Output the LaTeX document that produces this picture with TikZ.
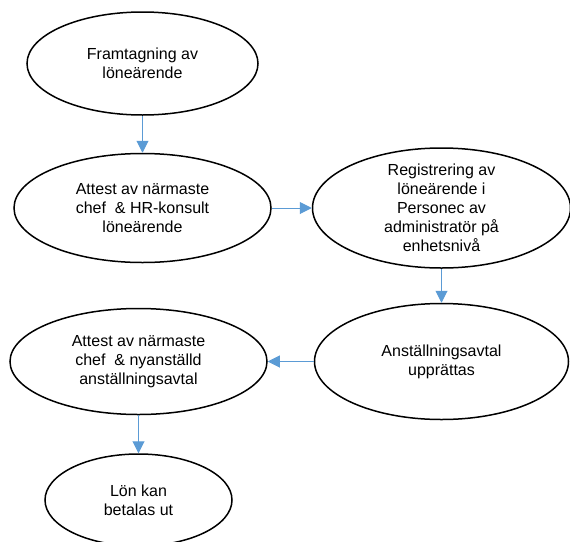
\documentclass[tikz,border=0pt]{standalone}
\usepackage{fontspec}
\setmainfont{Liberation Sans}
\usepackage{tikz}
\usetikzlibrary{arrows.meta, positioning, shapes.geometric}

\begin{document}
\begin{tikzpicture}[
  oval/.style={draw, ellipse, line width=1.5pt, inner sep=0pt, align=center,
               font=\fontsize{16}{19}\selectfont},
  arr/.style={-{Triangle[length=12pt, width=12pt]}, line width=1pt, draw={rgb,255:red,91;green,155;blue,213}, fill={rgb,255:red,91;green,155;blue,213}}
]
\useasboundingbox (0pt,0pt) rectangle (570pt,-541pt);

\node[oval, minimum width=231pt, minimum height=103pt] (fram) at (142.5pt,-63.5pt)
  {Framtagning av\\löneärende};
\node[oval, minimum width=257pt, minimum height=109pt, below=37pt of fram] (attlon)
  {Attest av närmaste\\chef \ \& HR-konsult\\löneärende};
\node[oval, minimum width=258pt, minimum height=120pt, inner ysep=-5pt, right=40pt of attlon] (reg)
  {Registrering av\\löneärende i\\Personec av\\administratör på\\enhetsnivå};
\node[oval, minimum width=254pt, minimum height=116pt, below=34pt of reg] (avtal)
  {Anställningsavtal\\upprättas};
\node[oval, minimum width=257pt, minimum height=106pt, left=46pt of avtal] (attavt)
  {Attest av närmaste\\chef \ \& nyanställd\\anställningsavtal};
\node[oval, minimum width=187pt, minimum height=92pt, below=38pt of attavt] (lon)
  {Lön kan\\betalas ut};

\draw[arr] (fram) -- (attlon);
\draw[arr] (attlon) -- (reg);
\draw[arr] (reg) -- (avtal);
\draw[arr] (avtal) -- (attavt);
\draw[arr] (attavt) -- (lon);
\end{tikzpicture}
\end{document}
